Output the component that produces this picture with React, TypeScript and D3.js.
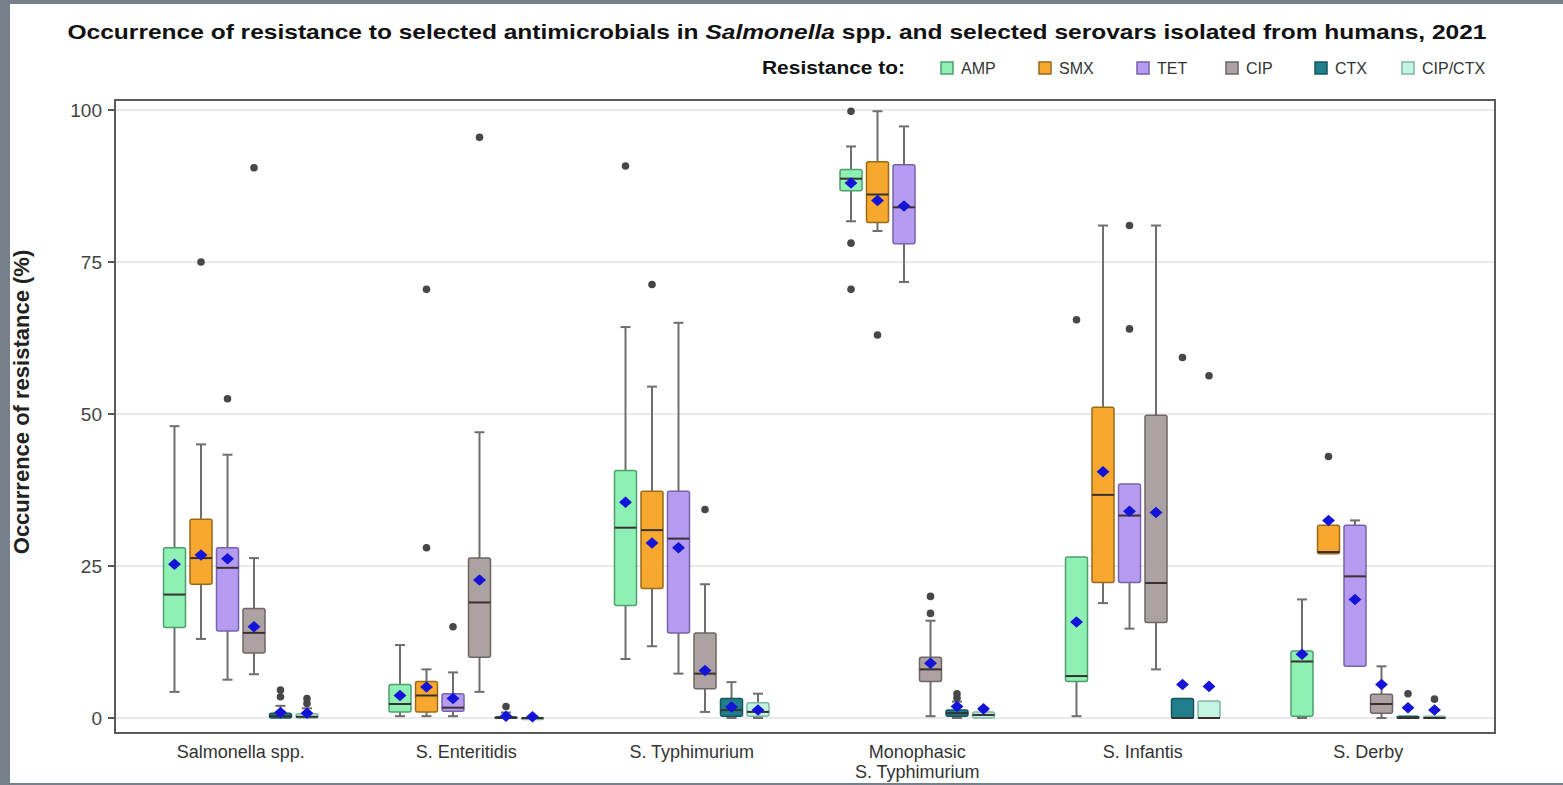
import { useEffect, useRef } from 'react'
import * as d3 from 'd3'

// categories and antimicrobials
const groups = ['Salmonella spp.', 'S. Enteritidis', 'S. Typhimurium', 'Monophasic', 'S. Infantis', 'S. Derby']
const drugs = ['AMP', 'SMX', 'TET', 'CIP', 'CTX', 'CIP/CTX']
const fills = ['#8ef0b2', '#f6a92e', '#b69cf0', '#aca2a1', '#217f8b', '#c2f5e2']
const strokes = ['#4f9e6e', '#9a6a18', '#7763a8', '#6e6564', '#155560', '#7fb5a2']
const yTicks = [0, 25, 50, 75, 100]

// [low whisker, q1, median, q3, high whisker] per group
const ampStats = [[4.3, 14.9, 20.3, 28, 48], [0.3, 1, 2.3, 5.5, 12], [9.7, 18.5, 31.3, 40.7, 64.3], [81.7, 86.7, 88.7, 90.2, 94], [0.3, 6, 6.9, 26.5, 26.5], [0, 0.3, 9.3, 11, 19.5]]
const smxStats = [[13, 22, 26.3, 32.7, 45], [0.3, 1, 3.7, 6, 8], [11.8, 21.3, 30.9, 37.3, 54.5], [80.1, 81.5, 86.1, 91.5, 99.8], [18.9, 22.3, 36.7, 51.1, 81], [27, 27, 27.3, 31.7, 31.7]]
const tetStats = [[6.3, 14.3, 24.7, 28, 43.3], [0.3, 1.1, 1.7, 4, 7.5], [7.3, 14, 29.5, 37.3, 65], [71.7, 78, 84, 91, 97.3], [14.7, 22.3, 33.3, 38.5, 38.5], [8.5, 8.5, 23.3, 31.7, 32.5]]
const cipStats = [[7.2, 10.7, 14, 18, 26.3], [4.3, 10, 19, 26.3, 47], [1, 4.8, 7.3, 14, 22], [0.3, 6, 8, 10, 16], [8, 15.7, 22.2, 49.8, 81], [0, 0.8, 2.3, 3.9, 8.5]]
const ctxStats = [[0, 0, 0.3, 0.8, 2], [0, 0, 0, 0.2, 0.9], [0, 0.3, 1.3, 3.2, 5.9], [0, 0.3, 0.8, 1.3, 2.7], [0, 0, 0, 3.2, 3.2], [0, 0, 0, 0.3, 0.3]]
const cipCtxStats = [[0, 0, 0.2, 0.7, 1.6], [0, 0, 0, 0, 0], [0, 0.3, 1, 2.5, 4], [0, 0, 0.5, 1, 1.7], [0, 0, 0, 2.8, 2.8], [0, 0, 0, 0.3, 0.3]]

// means (blue diamonds)
const ampMeans = [25.3, 3.7, 35.5, 88, 15.8, 10.5]
const smxMeans = [26.8, 5.1, 28.8, 85.1, 40.5, 32.5]
const tetMeans = [26.2, 3.2, 28, 84.2, 34, 19.5]
const cipMeans = [15, 22.7, 7.8, 9, 33.8, 5.5]
const ctxMeans = [0.9, 0.3, 1.8, 1.9, 5.5, 1.7]
const cipCtxMeans = [0.8, 0.2, 1.3, 1.5, 5.2, 1.3]

// outliers
const ampOut = [[], [], [90.8], [70.5, 78.1, 99.8], [65.5], []]
const smxOut = [[75], [28, 70.5], [71.3], [63], [], [43]]
const tetOut = [[52.5], [15], [], [], [64, 81], []]
const cipOut = [[90.5], [95.5], [34.3], [17.2, 20], [], []]
const ctxOut = [[3.5, 4.6], [1.9], [], [3.3, 4], [59.3], [4]]
const cipCtxOut = [[2.4, 3.2], [], [], [], [56.3], [3.1]]

const allStats = [ampStats, smxStats, tetStats, cipStats, ctxStats, cipCtxStats]
const allMeans = [ampMeans, smxMeans, tetMeans, cipMeans, ctxMeans, cipCtxMeans]
const allOut = [ampOut, smxOut, tetOut, cipOut, ctxOut, cipCtxOut]

const W = 1563
const H = 785
const font = 'Liberation Sans, Arial, sans-serif'

export default function App() {
    const svgRef = useRef<SVGSVGElement>(null)

    useEffect(() => {
        if (!svgRef.current) return
        const svg = d3.select(svgRef.current)
        svg.selectAll('*').remove()

        // page frame
        svg.append('rect').attr('width', W).attr('height', H).attr('fill', '#76808a')
        svg.append('rect').attr('x', 10).attr('y', 4).attr('width', W - 10).attr('height', H - 6).attr('fill', '#ffffff')

        const left = 115, right = 1495, top = 100, bottom = 733

        const x = d3.scaleBand().domain(groups).range([128, 1481])
        const xi = d3.scalePoint().domain(drugs).range([-66.25, 66.25])
        const y = d3.scaleLinear().domain([0, 100]).range([718, 110])
        const boxW = 22

        // grid
        svg.append('g').selectAll('line').data(yTicks).enter().append('line')
            .attr('x1', left).attr('x2', right)
            .attr('y1', d => y(d)).attr('y2', d => y(d))
            .attr('stroke', '#e3e3e3').attr('stroke-width', 1.5)

        // frame
        svg.append('rect').attr('x', left).attr('y', top).attr('width', right - left).attr('height', bottom - top)
            .attr('fill', 'none').attr('stroke', '#5a5a5a').attr('stroke-width', 2)

        // y axis ticks
        const yAxis = svg.append('g')
        yAxis.selectAll('line').data(yTicks).enter().append('line')
            .attr('x1', left - 7).attr('x2', left)
            .attr('y1', d => y(d)).attr('y2', d => y(d))
            .attr('stroke', '#5a5a5a').attr('stroke-width', 2)
        yAxis.selectAll('text').data(yTicks).enter().append('text')
            .attr('x', left - 13).attr('y', d => y(d)).attr('dy', '0.35em')
            .attr('text-anchor', 'end').attr('font-family', font).attr('font-size', 19)
            .attr('fill', '#444').text(d => d)

        svg.append('text')
            .attr('transform', `translate(29, 402) rotate(-90)`)
            .attr('text-anchor', 'middle').attr('font-family', font).attr('font-size', 22)
            .attr('font-weight', 'bold').attr('fill', '#222')
            .text('Occurrence of resistance (%)')

        // x labels
        const xl = svg.append('g')
        const addLabel = (cx: number, yy: number, s: string) =>
            xl.append('text').attr('x', cx).attr('y', yy).attr('text-anchor', 'middle')
                .attr('font-family', font).attr('font-size', 18).attr('fill', '#333').text(s)
        groups.forEach(g => {
            const cx = x(g)! + x.bandwidth() / 2
            if (g === 'Monophasic') {
                addLabel(cx, 758, 'Monophasic')
                addLabel(cx, 778, 'S. Typhimurium')
            } else {
                addLabel(cx, 758, g)
            }
        })

        // boxes
        const diamond = d3.symbol().type(d3.symbolDiamond).size(60)
        drugs.forEach((drug, di) => {
            const layer = svg.append('g')
            groups.forEach((g, gi) => {
                const [lo, q1, med, q3, hi] = allStats[di][gi]
                const cx = x(g)! + x.bandwidth() / 2 + xi(drug)!
                const gg = layer.append('g')
                // whiskers
                gg.append('line').attr('x1', cx).attr('x2', cx).attr('y1', y(hi)).attr('y2', y(q3))
                    .attr('stroke', '#6e6e6e').attr('stroke-width', 2)
                gg.append('line').attr('x1', cx).attr('x2', cx).attr('y1', y(q1)).attr('y2', y(lo))
                    .attr('stroke', '#6e6e6e').attr('stroke-width', 2)
                if (hi > q3) gg.append('line').attr('x1', cx - 5).attr('x2', cx + 5).attr('y1', y(hi)).attr('y2', y(hi))
                    .attr('stroke', '#6e6e6e').attr('stroke-width', 2)
                if (lo < q1) gg.append('line').attr('x1', cx - 5).attr('x2', cx + 5).attr('y1', y(lo)).attr('y2', y(lo))
                    .attr('stroke', '#6e6e6e').attr('stroke-width', 2)
                // box
                gg.append('rect').attr('x', cx - boxW / 2).attr('y', y(q3))
                    .attr('width', boxW).attr('height', Math.max(y(q1) - y(q3), 1.5))
                    .attr('rx', 2)
                    .attr('fill', fills[di]).attr('stroke', strokes[di]).attr('stroke-width', 1.5)
                gg.append('line').attr('x1', cx - boxW / 2).attr('x2', cx + boxW / 2)
                    .attr('y1', y(med)).attr('y2', y(med))
                    .attr('stroke', '#3b3030').attr('stroke-width', 2)
                // outliers
                gg.selectAll('circle').data(allOut[di][gi]).enter().append('circle')
                    .attr('cx', cx).attr('cy', d => y(d)).attr('r', 3.8).attr('fill', '#474747')
                // mean
                gg.append('path').attr('d', diamond()!)
                    .attr('transform', `translate(${cx}, ${y(allMeans[di][gi])}) scale(1.55, 0.8)`)
                    .attr('fill', '#1414d8')
            })
        })

        // title
        const title = svg.append('text').attr('x', 777).attr('y', 39).attr('text-anchor', 'middle')
            .attr('font-family', font).attr('font-size', 21).attr('font-weight', 'bold').attr('fill', '#111')
            .attr('textLength', 1419).attr('lengthAdjust', 'spacingAndGlyphs')
        title.append('tspan').text('Occurrence of resistance to selected antimicrobials in ')
        title.append('tspan').attr('font-style', 'italic').text('Salmonella')
        title.append('tspan').text(' spp. and selected serovars isolated from humans, 2021')

        // legend
        svg.append('text').attr('x', 905).attr('y', 74).attr('text-anchor', 'end')
            .attr('font-family', font).attr('font-size', 18).attr('font-weight', 'bold').attr('fill', '#111')
            .attr('textLength', 143).attr('lengthAdjust', 'spacingAndGlyphs')
            .text('Resistance to:')
        const legendX = [947, 1045, 1143, 1232, 1321, 1408]
        drugs.forEach((d, i) => {
            svg.append('rect').attr('x', legendX[i] - 6).attr('y', 62).attr('width', 12).attr('height', 12)
                .attr('fill', fills[i]).attr('stroke', strokes[i]).attr('stroke-width', 1.5)
            svg.append('text').attr('x', legendX[i] + 14).attr('y', 74)
                .attr('font-family', font).attr('font-size', 16).attr('fill', '#333').text(d)
        })
    }, [])

    return (
        <div style={{ position: 'absolute', left: 0, top: 0 }}>
            <svg ref={svgRef} width={W} height={H} style={{ display: 'block' }}></svg>
        </div>
    )
}
